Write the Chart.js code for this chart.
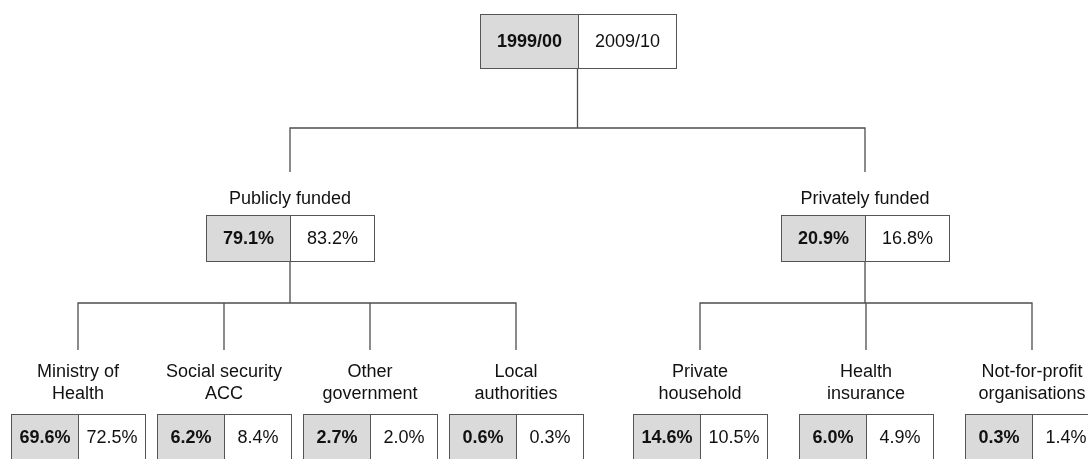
<!DOCTYPE html>
<html>
<head>
<meta charset="utf-8">
<script src="https://cdn.jsdelivr.net/npm/chart.js@4/dist/chart.umd.min.js"></script>
<style>
  html, body { margin: 0; padding: 0; background: #ffffff; }
  #wrap { position: relative; width: 1088px; height: 459px; }
</style>
</head>
<body>
<div id="wrap"><canvas id="c"></canvas></div>
<script>
// ---------- DATA ----------
const periods = ['1999/00', '2009/10'];
const sectors = ['Publicly funded', 'Privately funded'];
const sectorShare1999 = [79.1, 20.9];
const sectorShare2009 = [83.2, 16.8];
const sources = [
  ['Ministry of', 'Health'],
  ['Social security', 'ACC'],
  ['Other', 'government'],
  ['Local', 'authorities'],
  ['Private', 'household'],
  ['Health', 'insurance'],
  ['Not-for-profit', 'organisations']
];
const sourceSector = [0, 0, 0, 0, 1, 1, 1];
const sourceShare1999 = [69.6, 6.2, 2.7, 0.6, 14.6, 6.0, 0.3];
const sourceShare2009 = [72.5, 8.4, 2.0, 0.3, 10.5, 4.9, 1.4];

// ---------- LAYOUT (positions / sizes, in scale units) ----------
const layout = {
  sectorCenter: [290, 865],
  leafStart: [78, 700],
  leafStep: [146, 166],
  root: { top: 14, bottom: 68, half: 98 },
  rootBarY: 128,
  sectorStemEnd: 172,
  sectorLabelY: 199,
  sectorBox: { top: 215, bottom: 261, half: 84 },
  leafBarY: 303,
  leafStemEnd: 350,
  leafLabelY: [372, 394],
  leafBox: { top: 414, bottom: 460, half: 67 }
};
const style = {
  line: '#4d4d4d',
  boxBorder: '#555555',
  shade: '#dadada',
  text: '#111111',
  font: '"Liberation Sans", Arial, sans-serif',
  size: 18
};

// derived positions
const leafX = sources.map((s, i) => {
  const g = sourceSector[i];
  const k = sourceSector.slice(0, i).filter(v => v === g).length;
  return layout.leafStart[g] + k * layout.leafStep[g];
});
const rootX = (layout.sectorCenter[0] + layout.sectorCenter[1]) / 2;

// connector datasets
const connectors = [];
function seg(pts) {
  connectors.push({
    data: pts.map(p => ({ x: p[0], y: p[1] })),
    showLine: true, borderColor: style.line, borderWidth: 1.3,
    pointRadius: 0, fill: false, tension: 0
  });
}
seg([[rootX, layout.root.bottom], [rootX, layout.rootBarY]]);
seg([[layout.sectorCenter[0], layout.sectorStemEnd], [layout.sectorCenter[0], layout.rootBarY],
     [layout.sectorCenter[1], layout.rootBarY], [layout.sectorCenter[1], layout.sectorStemEnd]]);
sectors.forEach((s, g) => {
  const xs = leafX.filter((x, i) => sourceSector[i] === g);
  seg([[layout.sectorCenter[g], layout.sectorBox.bottom], [layout.sectorCenter[g], layout.leafBarY]]);
  seg([[xs[0], layout.leafStemEnd], [xs[0], layout.leafBarY],
       [xs[xs.length - 1], layout.leafBarY], [xs[xs.length - 1], layout.leafStemEnd]]);
  xs.slice(1, -1).forEach(x => seg([[x, layout.leafBarY], [x, layout.leafStemEnd]]));
});

const pct = v => v.toFixed(1) + '%';

const boxPlugin = {
  id: 'boxes',
  afterDatasetsDraw(chart) {
    const ctx = chart.ctx;
    const sx = chart.scales.x, sy = chart.scales.y;
    function pairBox(cx, box, left, right) {
      const xl = Math.round(sx.getPixelForValue(cx - box.half)) + 0.5;
      const xm = Math.round(sx.getPixelForValue(cx)) + 0.5;
      const xr = Math.round(sx.getPixelForValue(cx + box.half)) + 0.5;
      const yt = Math.round(sy.getPixelForValue(box.top)) + 0.5;
      const yb = Math.round(sy.getPixelForValue(box.bottom)) + 0.5;
      ctx.save();
      ctx.fillStyle = style.shade;
      ctx.fillRect(xl, yt, xm - xl, yb - yt);
      ctx.fillStyle = '#ffffff';
      ctx.fillRect(xm, yt, xr - xm, yb - yt);
      ctx.strokeStyle = style.boxBorder;
      ctx.lineWidth = 1;
      ctx.strokeRect(xl, yt, xr - xl, yb - yt);
      ctx.beginPath(); ctx.moveTo(xm, yt); ctx.lineTo(xm, yb); ctx.stroke();
      ctx.fillStyle = style.text;
      ctx.textAlign = 'center';
      ctx.textBaseline = 'middle';
      const ym = (yt + yb) / 2 + 1;
      ctx.font = 'bold ' + style.size + 'px ' + style.font;
      ctx.fillText(left, (xl + xm) / 2, ym);
      ctx.font = style.size + 'px ' + style.font;
      ctx.fillText(right, (xm + xr) / 2, ym);
      ctx.restore();
    }
    function label(text, cx, cy) {
      ctx.save();
      ctx.fillStyle = style.text;
      ctx.font = style.size + 'px ' + style.font;
      ctx.textAlign = 'center';
      ctx.textBaseline = 'middle';
      ctx.fillText(text, sx.getPixelForValue(cx), sy.getPixelForValue(cy));
      ctx.restore();
    }
    pairBox(rootX, layout.root, periods[0], periods[1]);
    sectors.forEach((s, g) => {
      label(s, layout.sectorCenter[g], layout.sectorLabelY);
      pairBox(layout.sectorCenter[g], layout.sectorBox, pct(sectorShare1999[g]), pct(sectorShare2009[g]));
    });
    sources.forEach((lines, i) => {
      lines.forEach((t, j) => label(t, leafX[i], layout.leafLabelY[j]));
      pairBox(leafX[i], layout.leafBox, pct(sourceShare1999[i]), pct(sourceShare2009[i]));
    });
  }
};

new Chart(document.getElementById('c'), {
  type: 'scatter',
  data: { datasets: connectors },
  options: {
    responsive: true,
    maintainAspectRatio: false,
    animation: false,
    layout: { padding: 0 },
    plugins: { legend: { display: false }, tooltip: { enabled: false } },
    scales: {
      x: { type: 'linear', min: 0, max: 1088, display: false },
      y: { type: 'linear', min: 0, max: 459, reverse: true, display: false }
    }
  },
  plugins: [boxPlugin]
});
</script>
</body>
</html>
